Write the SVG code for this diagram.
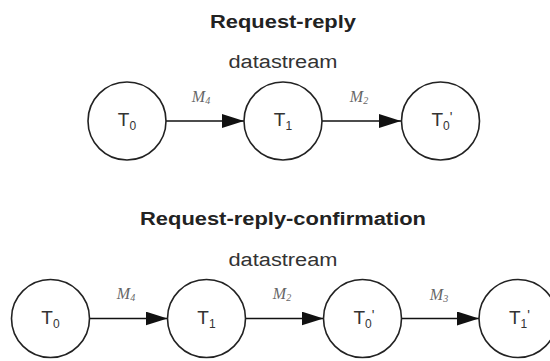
<svg xmlns="http://www.w3.org/2000/svg" width="550" height="361" viewBox="0 0 550 361">
<style>
.title{font-family:"Liberation Sans",Arial,sans-serif;font-weight:bold;font-size:18px;fill:#222;text-anchor:middle}
.sub{font-family:"Liberation Sans",Arial,sans-serif;font-size:18px;fill:#333;text-anchor:middle}
.node circle{fill:#fff;stroke:#222;stroke-width:1.6}
.node text{font-family:"Liberation Sans",Arial,sans-serif;font-size:19px;fill:#333;text-anchor:middle}
.edge line{stroke:#111;stroke-width:1.6}
.lbl{font-family:"Liberation Serif","Times New Roman",serif;font-style:italic;font-size:16px;fill:#666;text-anchor:middle}
</style>
<defs>
<marker id="ah" markerUnits="userSpaceOnUse" markerWidth="22" markerHeight="14" refX="22" refY="7" orient="auto">
<path d="M0,0 L22,7 L0,14 z" fill="#111"/>
</marker>
</defs>
<rect width="550" height="361" fill="#fff"/>
<text class="title" x="283" y="28" textLength="146" lengthAdjust="spacingAndGlyphs">Request-reply</text>
<text class="sub" x="283" y="68" textLength="109" lengthAdjust="spacingAndGlyphs">datastream</text>
<text class="title" x="283" y="225" textLength="286" lengthAdjust="spacingAndGlyphs">Request-reply-confirmation</text>
<text class="sub" x="283" y="266" textLength="109" lengthAdjust="spacingAndGlyphs">datastream</text>
<g id="connectors" class="edge">
<line x1="166" y1="121" x2="244" y2="121" marker-end="url(#ah)"/>
<line x1="322" y1="121" x2="401" y2="121" marker-end="url(#ah)"/>
<line x1="89.5" y1="318.5" x2="167.5" y2="318.5" marker-end="url(#ah)"/>
<line x1="245.5" y1="318.5" x2="323.5" y2="318.5" marker-end="url(#ah)"/>
<line x1="401.5" y1="318.5" x2="479" y2="318.5" marker-end="url(#ah)"/>
<text class="lbl" x="201" y="102">M<tspan font-size="10" dy="2">4</tspan></text>
<text class="lbl" x="359" y="102">M<tspan font-size="10" dy="2">2</tspan></text>
<text class="lbl" x="126" y="299">M<tspan font-size="10" dy="2">4</tspan></text>
<text class="lbl" x="282" y="299">M<tspan font-size="10" dy="2">2</tspan></text>
<text class="lbl" x="439" y="300">M<tspan font-size="10" dy="2">3</tspan></text>
</g>
<g id="top-T0" class="node"><circle cx="127" cy="121" r="39"/><text x="127" y="126">T<tspan font-size="12" dy="4">0</tspan></text></g>
<g id="top-T1" class="node"><circle cx="283" cy="121" r="39"/><text x="283" y="126">T<tspan font-size="12" dy="4">1</tspan></text></g>
<g id="top-T0p" class="node"><circle cx="440.5" cy="121" r="39"/><text x="442" y="126">T<tspan font-size="12" dy="4">0</tspan><tspan font-size="14" dy="-8">'</tspan></text></g>
<g id="bot-T0" class="node"><circle cx="50.5" cy="318.5" r="39"/><text x="50.5" y="323.5">T<tspan font-size="12" dy="4">0</tspan></text></g>
<g id="bot-T1" class="node"><circle cx="206.5" cy="318.5" r="39"/><text x="206.5" y="323.5">T<tspan font-size="12" dy="4">1</tspan></text></g>
<g id="bot-T0p" class="node"><circle cx="362.5" cy="318.5" r="39"/><text x="364" y="323.5">T<tspan font-size="12" dy="4">0</tspan><tspan font-size="14" dy="-8">'</tspan></text></g>
<g id="bot-T1p" class="node"><circle cx="518" cy="318.5" r="39"/><text x="519.5" y="323.5">T<tspan font-size="12" dy="4">1</tspan><tspan font-size="14" dy="-8">'</tspan></text></g>
</svg>
